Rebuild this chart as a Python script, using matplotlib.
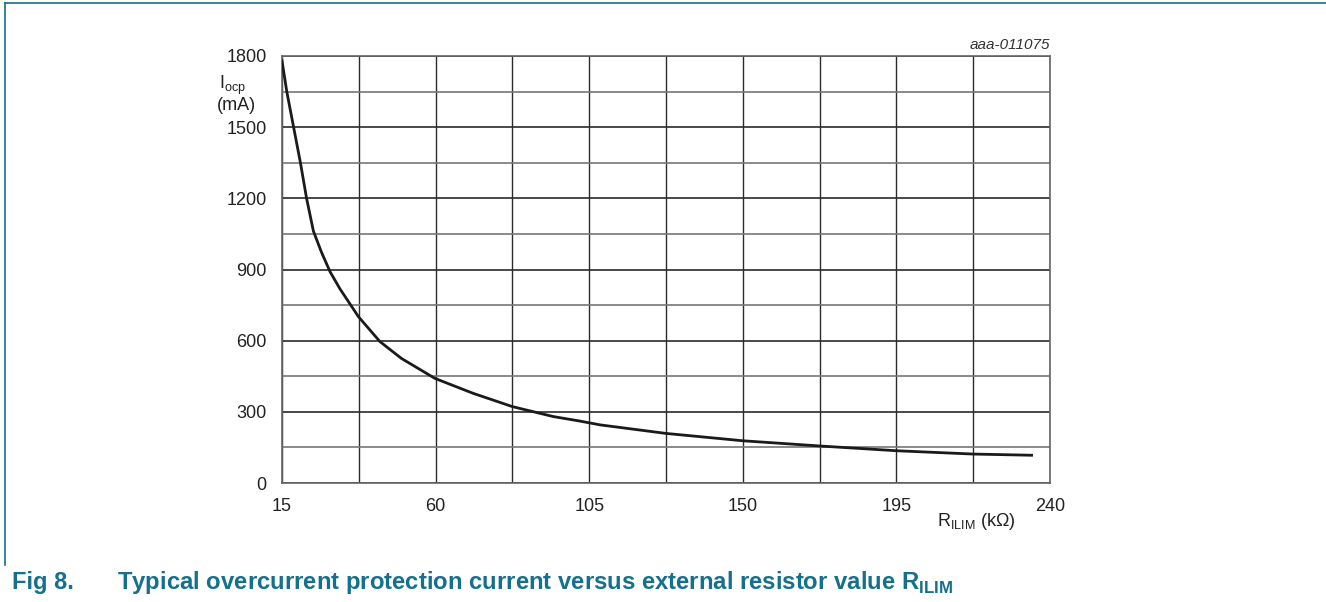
import matplotlib
matplotlib.use('Agg')
import matplotlib.pyplot as plt
from matplotlib.lines import Line2D

plt.rcParams['font.family'] = ['Liberation Sans', 'DejaVu Sans']

# values
r_ilim = [15, 16.4, 18.4, 20.4, 22.2, 24.2, 26.5, 29.1, 32.0, 37.4, 43.7, 50, 59.8,
          71.0, 82.5, 94.5, 102.3, 108.2, 127.5, 150, 172.6, 195, 217.5, 234.6]
i_ocp = [1780, 1650, 1500, 1350, 1200, 1062, 975, 890, 818, 701, 596, 525, 441,
         378, 322, 280, 261, 245, 209, 178, 156, 136, 122, 117]

x_ticks = [15, 60, 105, 150, 195, 240]
y_ticks = [0, 300, 600, 900, 1200, 1500, 1800]
x_grid = [15 + 22.5 * k for k in range(11)]
y_grid = [150 * k for k in range(13)]

teal = '#14708c'
txt = '#222222'

fig = plt.figure(figsize=(13.26, 6.02), dpi=100)
ax = fig.add_axes([282 / 1326, 1 - 483 / 602, 768 / 1326, 427 / 602])

for g in x_grid:
    ax.axvline(g, color='#2a2a2a', lw=1.0, zorder=1)
for g in y_grid:
    c = '#2a2a2a' if g % 300 == 0 else '#777777'
    ax.axhline(g, color=c, lw=1.2, zorder=1)

ax.plot(r_ilim, i_ocp, color='#1a1a1a', lw=2.0, zorder=3)

ax.set_xlim(15, 240)
ax.set_ylim(0, 1800)
ax.set_xticks(x_ticks)
ax.set_yticks(y_ticks)
ax.tick_params(length=0, labelsize=13, colors=txt)
ax.tick_params(axis='y', pad=11)
ax.tick_params(axis='x', pad=11)
for s in ax.spines.values():
    s.set_color('#666666')
    s.set_linewidth(1.2)

ax.text(-0.082, 0.93, r'I$_{\mathregular{ocp}}$', transform=ax.transAxes,
        fontsize=13, ha='left', va='center', color=txt)
ax.text(-0.085, 0.885, '(mA)', transform=ax.transAxes,
        fontsize=13, ha='left', va='center', color=txt)
ax.text(0.955, -0.09, r'R$_{\mathregular{ILIM}}$ (kΩ)', transform=ax.transAxes,
        fontsize=13, ha='right', va='center', color=txt)
ax.text(1.0, 1.025, 'aaa-011075', transform=ax.transAxes, fontsize=11,
        style='italic', ha='right', va='center', color='#333333')

fig.text(12 / 1326, 1 - 583 / 602, 'Fig 8.', fontsize=17, fontweight='bold',
         color=teal, ha='left', va='center')
fig.text(117 / 1326, 1 - 583 / 602,
         'Typical overcurrent protection current versus external resistor value R$_{\\mathregular{ILIM}}$',
         fontsize=17.2, fontweight='bold', color=teal, ha='left', va='center')

# frame lines around the figure area
fig.add_artist(Line2D([5 / 1326, 1], [1 - 3 / 602, 1 - 3 / 602],
                      transform=fig.transFigure, color=teal, lw=1.2))
fig.add_artist(Line2D([5 / 1326, 5 / 1326], [1 - 3 / 602, 1 - 565 / 602],
                      transform=fig.transFigure, color=teal, lw=1.2))

fig.savefig('out.png', dpi=100)
